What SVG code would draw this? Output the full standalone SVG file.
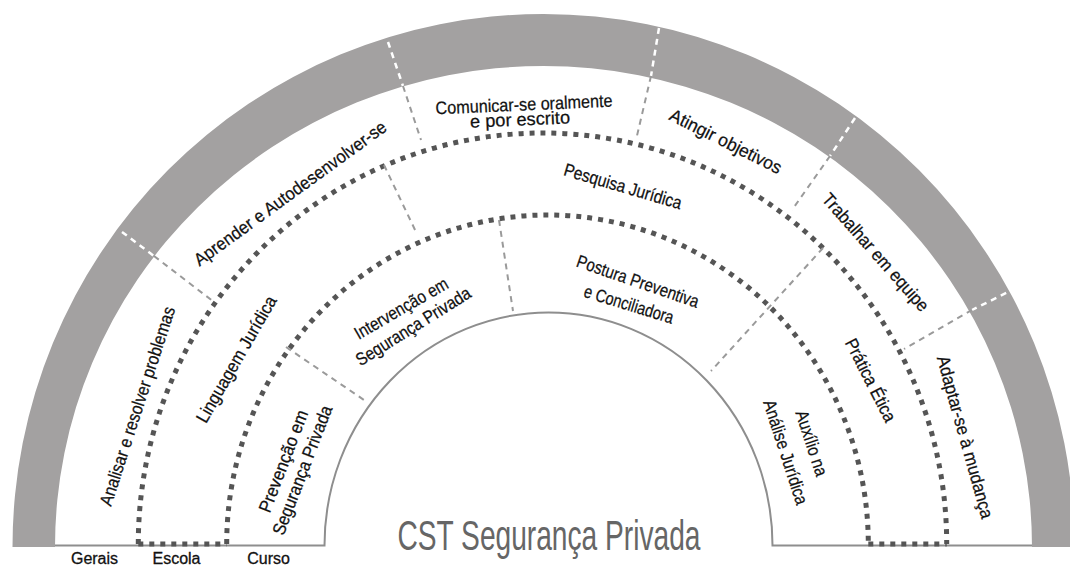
<svg xmlns="http://www.w3.org/2000/svg" width="1070" height="566" viewBox="0 0 1070 566">
<style>
.band{fill:#a3a1a1}
.base{fill:none;stroke:#8e8e8e;stroke-width:2}
.dots{fill:none;stroke:#555;stroke-width:5;stroke-dasharray:5 6}
.sep{fill:none;stroke:#9a9a9a;stroke-width:2;stroke-dasharray:6 5}
.wsep{fill:none;stroke:#fff;stroke-width:2.5;stroke-dasharray:6 5}
text{font-family:"Liberation Sans",Arial,sans-serif}
.lbl{font-size:18px;fill:#111;text-anchor:middle;stroke:#111;stroke-width:0.25}
.cst{font-size:42px;fill:#666;text-anchor:middle}
.foot{font-size:16px;fill:#111;text-anchor:middle;stroke:#111;stroke-width:0.3}
</style>
<rect width="1070" height="566" fill="#fff"/>
<g id="band">
<path class="band" d="M12.5 547 A531 533 0 0 1 1074.5 547 L1032 547 A488.5 481 0 0 0 55 547 Z"/>
</g>
<g id="rings">
<path class="base" d="M55 545.5 L324.5 545.5 A224 233 0 0 1 772.5 545.5 L1032 545.5"/>
<path class="dots" d="M138.3 544 A404.2 411 0 0 1 946.7 544"/>
<path class="dots" d="M226.7 544 A320.8 329 0 0 1 868.3 544"/>
<path class="dots" d="M138.3 544 L226.7 544 M868.3 544 L946.7 544"/>
</g>
<g id="connectors">
<path class="wsep" d="M122 232 L154 256"/>
<path class="sep" d="M154 256 L214 302"/>
<path class="wsep" d="M388 42 L403 86"/>
<path class="sep" d="M403 86 L421 140"/>
<path class="wsep" d="M659 28 L651 76"/>
<path class="sep" d="M651 76 L636 140"/>
<path class="wsep" d="M855 118 L830 156"/>
<path class="sep" d="M830 156 L792 210"/>
<path class="wsep" d="M1016 288 L972 310"/>
<path class="sep" d="M972 310 L904 349"/>
<path class="sep" d="M384 165 L417 234"/>
<path class="sep" d="M823 248 L711 371"/>
<path class="sep" d="M286 347 L367 402"/>
<path class="sep" d="M499 220 L513 311"/>
</g>
<g id="n-analisar"><text class="lbl" transform="translate(137 406) rotate(-72)" y="6.5" textLength="208" lengthAdjust="spacingAndGlyphs">Analisar e resolver problemas</text></g>
<g id="n-aprender"><text class="lbl" transform="translate(290 193) rotate(-36)" y="6.5" textLength="233" lengthAdjust="spacingAndGlyphs">Aprender e Autodesenvolver-se</text></g>
<g id="n-comunicar">
<text class="lbl" transform="translate(524 104) rotate(-2.5)" y="6.5" textLength="177" lengthAdjust="spacingAndGlyphs">Comunicar-se oralmente</text>
<text class="lbl" transform="translate(520 119) rotate(-2.5)" y="6.5" textLength="100" lengthAdjust="spacingAndGlyphs">e por escrito</text>
</g>
<g id="n-atingir"><text class="lbl" transform="translate(726 141) rotate(26.6)" y="6.5" textLength="123" lengthAdjust="spacingAndGlyphs">Atingir objetivos</text></g>
<g id="n-trabalhar"><text class="lbl" transform="translate(876 252) rotate(48.5)" y="6.5" textLength="151" lengthAdjust="spacingAndGlyphs">Trabalhar em equipe</text></g>
<g id="n-adaptar"><text class="lbl" transform="translate(965.5 437) rotate(74.4)" y="6.5" textLength="168" lengthAdjust="spacingAndGlyphs">Adaptar-se à mudança</text></g>
<g id="n-linguagem"><text class="lbl" transform="translate(236 359) rotate(-60)" y="6.5" textLength="143" lengthAdjust="spacingAndGlyphs">Linguagem Jurídica</text></g>
<g id="n-pesquisa"><text class="lbl" transform="translate(623 186) rotate(16.3)" y="6.5" textLength="122" lengthAdjust="spacingAndGlyphs">Pesquisa Jurídica</text></g>
<g id="n-pratica"><text class="lbl" transform="translate(871 380) rotate(63)" y="6.5" textLength="91" lengthAdjust="spacingAndGlyphs">Prática Ética</text></g>
<g id="n-prevencao">
<text class="lbl" transform="translate(283 461) rotate(-69)" y="6.5" textLength="108" lengthAdjust="spacingAndGlyphs">Prevenção em</text>
<text class="lbl" transform="translate(302 470) rotate(-69)" y="6.5" textLength="137" lengthAdjust="spacingAndGlyphs">Segurança Privada</text>
</g>
<g id="n-intervencao">
<text class="lbl" transform="translate(401 308) rotate(-30)" y="6.5" textLength="105" lengthAdjust="spacingAndGlyphs">Intervenção em</text>
<text class="lbl" transform="translate(413 326) rotate(-32)" y="6.5" textLength="132" lengthAdjust="spacingAndGlyphs">Segurança Privada</text>
</g>
<g id="n-postura">
<text class="lbl" transform="translate(638 281) rotate(19)" y="6.5" textLength="128" lengthAdjust="spacingAndGlyphs">Postura Preventiva</text>
<text class="lbl" transform="translate(629 304) rotate(17)" y="6.5" textLength="93" lengthAdjust="spacingAndGlyphs">e Conciliadora</text>
</g>
<g id="n-auxilio">
<text class="lbl" transform="translate(812 443) rotate(72)" y="6.5" textLength="68" lengthAdjust="spacingAndGlyphs">Auxílio na</text>
<text class="lbl" transform="translate(786 452) rotate(72)" y="6.5" textLength="109" lengthAdjust="spacingAndGlyphs">Análise Jurídica</text>
</g>
<g id="n-cst"><text class="cst" x="549" y="550" textLength="303" lengthAdjust="spacingAndGlyphs">CST Segurança Privada</text></g>
<g id="n-gerais"><text class="foot" x="94.5" y="564">Gerais</text></g>
<g id="n-escola"><text class="foot" x="176.5" y="564">Escola</text></g>
<g id="n-curso"><text class="foot" x="268.6" y="564">Curso</text></g>
</svg>
